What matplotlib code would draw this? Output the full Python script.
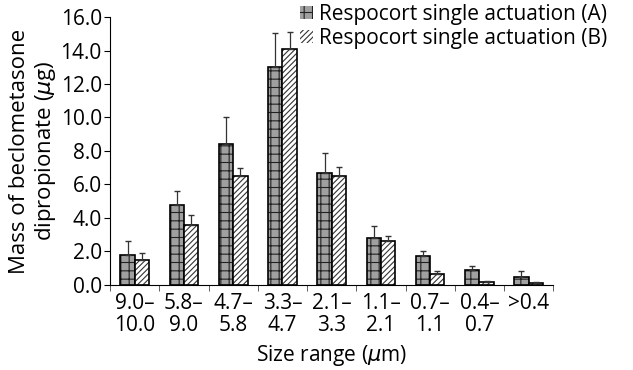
import matplotlib
matplotlib.use("Agg")
import matplotlib.pyplot as plt
import numpy as np

CATEGORIES = ["9.0–\n10.0", "5.8–\n9.0", "4.7–\n5.8", "3.3–\n4.7", "2.1–\n3.3",
              "1.1–\n2.1", "0.7–\n1.1", "0.4–\n0.7", ">0.4\n"]
MEAN_A = [1.8, 4.8, 8.4, 13.0, 6.7, 2.8, 1.75, 0.9, 0.5]
ERR_A = [0.8, 0.8, 1.65, 2.05, 1.2, 0.7, 0.25, 0.2, 0.35]
MEAN_B = [1.5, 3.6, 6.5, 14.1, 6.5, 2.6, 0.65, 0.2, 0.1]
ERR_B = [0.4, 0.6, 0.5, 1.0, 0.55, 0.3, 0.2, 0.05, 0.05]
LABEL_A = "Respocort single actuation (A)"
LABEL_B = "Respocort single actuation (B)"

plt.rcParams["font.family"] = ["Open Sans", "DejaVu Sans"]
plt.rcParams["hatch.linewidth"] = 0.8

fig = plt.figure(figsize=(6.33, 3.70), dpi=100)
ax = fig.add_axes([0.174, 0.23, 0.70, 0.724])

x = np.arange(len(CATEGORIES))
w = 0.29

ax.bar(x - w / 2, MEAN_A, w, color="#a0a0a0", edgecolor="#222222", hatch="++",
       linewidth=0, label=LABEL_A)
ax.bar(x - w / 2, MEAN_A, w, fill=False, edgecolor="black", linewidth=1.2)
ax.bar(x + w / 2, MEAN_B, w, color="white", edgecolor="#333333", hatch="//////",
       linewidth=0, label=LABEL_B)
ax.bar(x + w / 2, MEAN_B, w, fill=False, edgecolor="black", linewidth=1.2)

ax.errorbar(x - w / 2, MEAN_A, yerr=[np.zeros(len(ERR_A)), ERR_A], fmt="none",
            ecolor="#333333", elinewidth=0.9, capsize=2)
ax.errorbar(x + w / 2, MEAN_B, yerr=[np.zeros(len(ERR_B)), ERR_B], fmt="none",
            ecolor="#333333", elinewidth=0.9, capsize=2)

ax.set_xlim(-0.5, len(CATEGORIES) - 0.5)
ax.set_ylim(0, 16)
ax.set_yticks(np.arange(0, 16.1, 2))
ax.set_yticklabels([f"{v:.1f}" for v in np.arange(0, 16.1, 2)], fontsize=15)
ax.set_xticks(x)
ax.set_xticklabels(CATEGORIES, fontsize=15, linespacing=1.05)
ax.tick_params(axis="x", length=0, pad=6)
ax.set_xticks(np.arange(-0.5, len(CATEGORIES)), minor=True)
ax.tick_params(axis="x", which="minor", length=4, color="#444444")
ax.tick_params(axis="y", length=4, pad=2)

for s in ["top", "right"]:
    ax.spines[s].set_visible(False)

ax.set_ylabel("Mass of beclometasone\ndipropionate ($\\mu$g)", fontsize=16,
              linespacing=1.15, labelpad=2)
ax.set_xlabel("Size range ($\\mu$m)", fontsize=15, labelpad=5)

ax.legend(loc="upper left", bbox_to_anchor=(300 / 633, 1 - 4 / 370),
          bbox_transform=fig.transFigure, frameon=False,
          fontsize=15, handlelength=0.6, handleheight=0.6, handletextpad=0.3,
          labelspacing=0.15, borderaxespad=0, borderpad=0)

fig.savefig("out.png", dpi=100)
